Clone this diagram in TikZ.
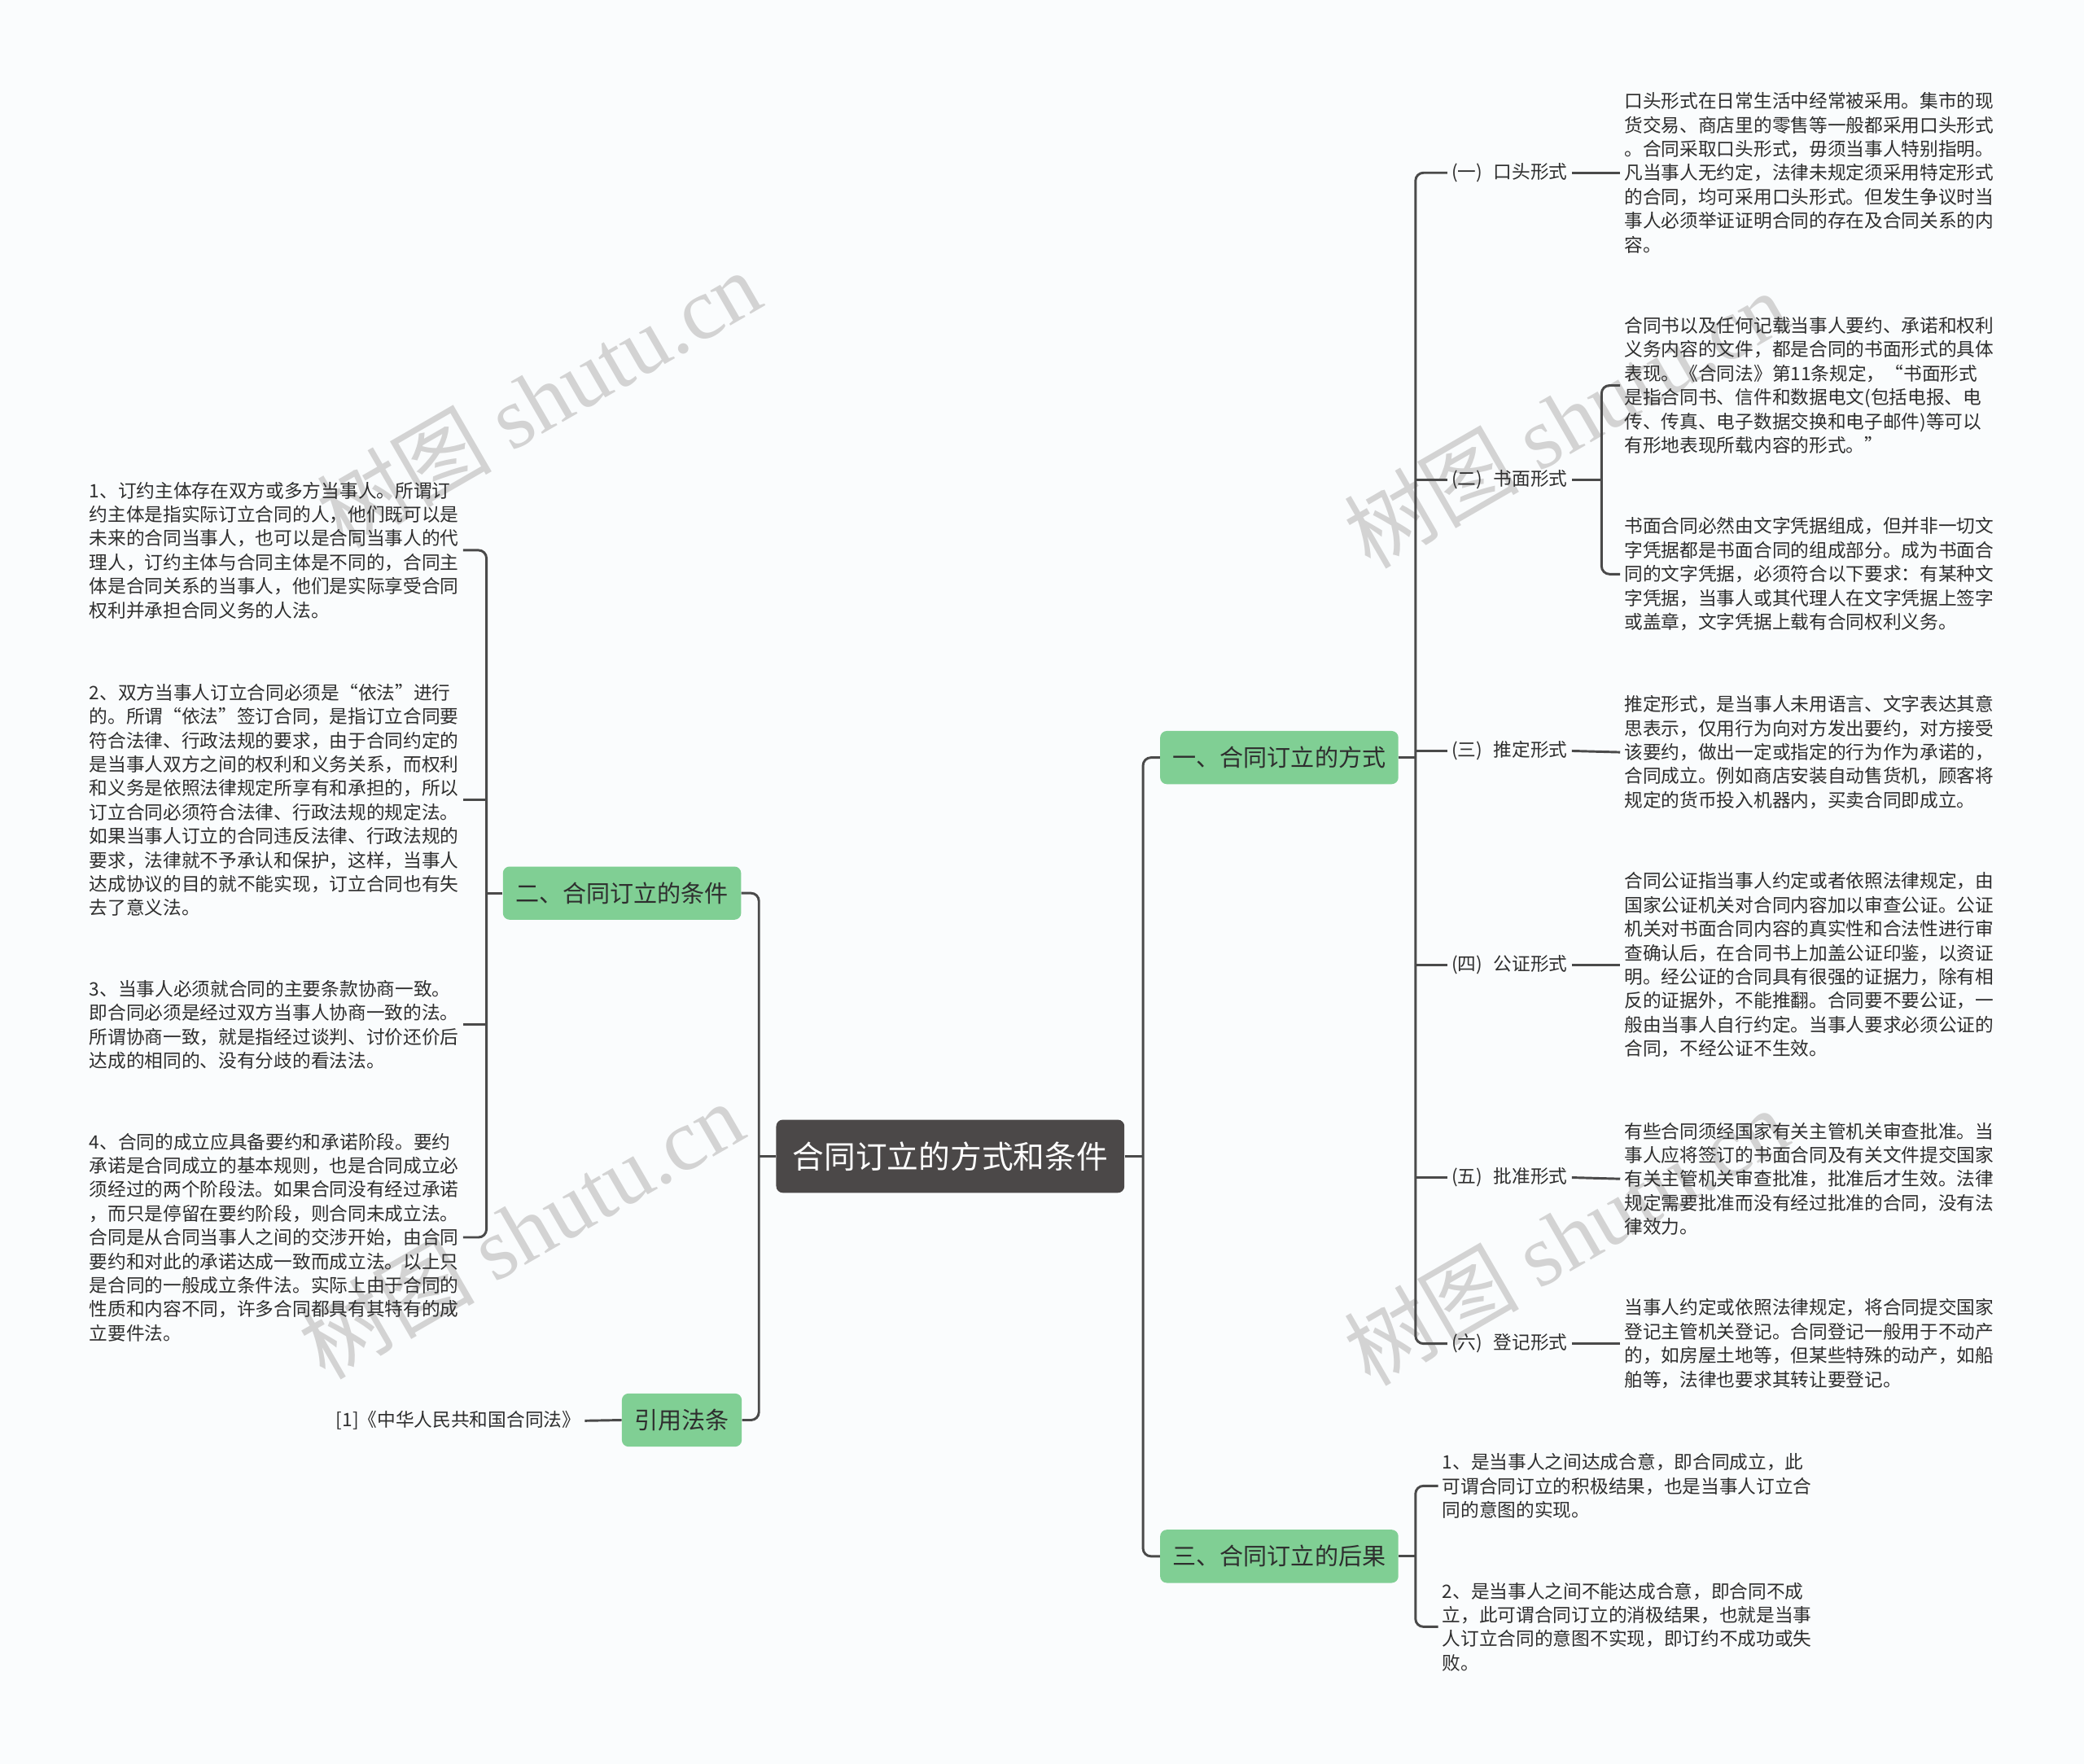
\documentclass[tikz,border=0pt]{standalone}
\usepackage{fontspec}
\newfontfamily\cjk{Noto Sans CJK SC}
\newfontfamily\wmserif{Liberation Serif}
\usepackage{xcolor}
\usepackage{tikz}
\usetikzlibrary{positioning,calc}
\definecolor{MapGreen}{HTML}{80CF94}
\definecolor{MapDark}{HTML}{4B4848}
\definecolor{MapLine}{HTML}{4A4A4A}
\definecolor{MapText}{HTML}{2E2E2E}
\definecolor{MapBg}{HTML}{FAFCFD}
\definecolor{MapMark}{HTML}{D3D3D3}

\begin{document}
\begin{tikzpicture}[x=1pt, y=-1pt, every node/.style={font=\cjk, text=MapText},
		conn/.style={line width=1.8pt, MapLine, rounded corners=6pt},
		rootbox/.style={fill=MapDark, text=white, rounded corners=5pt, font=\cjk\fontsize{23.7}{28}\selectfont, inner xsep=12.5pt, minimum height=55pt},
		branch/.style={fill=MapGreen, rounded corners=5pt, font=\cjk\fontsize{17.8}{22}\selectfont, inner xsep=9.5pt, minimum height=40pt},
		sublabel/.style={font=\cjk\fontsize{13.9}{18}\selectfont, inner sep=3pt, anchor=west},
		leaf/.style={font=\cjk\fontsize{13.9}{18}\selectfont, align=left, inner sep=3pt, anchor=west},
		wmtext/.style={text=MapMark, rotate=30, font=\cjk\fontsize{66}{76}\selectfont}]
		\fill[MapBg] (0,0) rectangle (1568,1327);
		\useasboundingbox (0,0) rectangle (1568,1327);
		\node[wmtext] (wm1) at (405,300) {树图 {\wmserif shutu.cn}};
		\node[wmtext] (wm2) at (392,925) {树图 {\wmserif shutu.cn}};
		\node[wmtext] (wm3) at (1178,315) {树图 {\wmserif shutu.cn}};
		\node[wmtext] (wm4) at (1178,930) {树图 {\wmserif shutu.cn}};

		\node[rootbox] (root) at (715,870) {合同订立的方式和条件};
		\node[branch] (b1) at (962.5,570) {一、合同订立的方式};
		\node[branch] (b3) at (962.5,1171) {三、合同订立的后果};
		\node[branch] (b2) at (468,672) {二、合同订立的条件};
		\node[branch] (b4) at (513,1068.5) {引用法条};

		\node[sublabel] (lab1) at (1089,130) {(一)\hspace{.6em}口头形式};
		\node[sublabel] (lab2) at (1089,361) {(二)\hspace{.6em}书面形式};
		\node[sublabel] (lab3) at (1089,565) {(三)\hspace{.6em}推定形式};
		\node[sublabel] (lab4) at (1089,726) {(四)\hspace{.6em}公证形式};
		\node[sublabel] (lab5) at (1089,886) {(五)\hspace{.6em}批准形式};
		\node[sublabel] (lab6) at (1089,1011) {(六)\hspace{.6em}登记形式};

		\node[leaf] (r1) at (1219,130) {口头形式在日常生活中经常被采用。集市的现\\货交易、商店里的零售等一般都采用口头形式\\。合同采取口头形式，毋须当事人特别指明。\\凡当事人无约定，法律未规定须采用特定形式\\的合同，均可采用口头形式。但发生争议时当\\事人必须举证证明合同的存在及合同关系的内\\容。};
		\node[leaf] (r2a) at (1219,290) {合同书以及任何记载当事人要约、承诺和权利\\义务内容的文件，都是合同的书面形式的具体\\表现。《合同法》第11条规定，“书面形式\\是指合同书、信件和数据电文(包括电报、电\\传、传真、电子数据交换和电子邮件)等可以\\有形地表现所载内容的形式。”};
		\node[leaf] (r2b) at (1219,432) {书面合同必然由文字凭据组成，但并非一切文\\字凭据都是书面合同的组成部分。成为书面合\\同的文字凭据，必须符合以下要求：有某种文\\字凭据，当事人或其代理人在文字凭据上签字\\或盖章，文字凭据上载有合同权利义务。};
		\node[leaf] (r3) at (1219,566) {推定形式，是当事人未用语言、文字表达其意\\思表示，仅用行为向对方发出要约，对方接受\\该要约，做出一定或指定的行为作为承诺的，\\合同成立。例如商店安装自动售货机，顾客将\\规定的货币投入机器内，买卖合同即成立。};
		\node[leaf] (r4) at (1219,726) {合同公证指当事人约定或者依照法律规定，由\\国家公证机关对合同内容加以审查公证。公证\\机关对书面合同内容的真实性和合法性进行审\\查确认后，在合同书上加盖公证印鉴，以资证\\明。经公证的合同具有很强的证据力，除有相\\反的证据外，不能推翻。合同要不要公证，一\\般由当事人自行约定。当事人要求必须公证的\\合同，不经公证不生效。};
		\node[leaf] (r5) at (1219,887) {有些合同须经国家有关主管机关审查批准。当\\事人应将签订的书面合同及有关文件提交国家\\有关主管机关审查批准，批准后才生效。法律\\规定需要批准而没有经过批准的合同，没有法\\律效力。};
		\node[leaf] (r6) at (1219,1011) {当事人约定或依照法律规定，将合同提交国家\\登记主管机关登记。合同登记一般用于不动产\\的，如房屋土地等，但某些特殊的动产，如船\\舶等，法律也要求其转让要登记。};

		\node[leaf] (s1) at (1082,1118) {1、是当事人之间达成合意，即合同成立，此\\可谓合同订立的积极结果，也是当事人订立合\\同的意图的实现。};
		\node[leaf] (s2) at (1082,1224) {2、是当事人之间不能达成合意，即合同不成\\立，此可谓合同订立的消极结果，也就是当事\\人订立合同的意图不实现，即订约不成功或失\\败。};

		\node[leaf] (c1) at (64,414) {1、订约主体存在双方或多方当事人。所谓订\\约主体是指实际订立合同的人，他们既可以是\\未来的合同当事人，也可以是合同当事人的代\\理人，订约主体与合同主体是不同的，合同主\\体是合同关系的当事人，他们是实际享受合同\\权利并承担合同义务的人法。};
		\node[leaf] (c2) at (64,602) {2、双方当事人订立合同必须是“依法”进行\\的。所谓“依法”签订合同，是指订立合同要\\符合法律、行政法规的要求，由于合同约定的\\是当事人双方之间的权利和义务关系，而权利\\和义务是依照法律规定所享有和承担的，所以\\订立合同必须符合法律、行政法规的规定法。\\如果当事人订立的合同违反法律、行政法规的\\要求，法律就不予承认和保护，这样，当事人\\达成协议的目的就不能实现，订立合同也有失\\去了意义法。};
		\node[leaf] (c3) at (64,771) {3、当事人必须就合同的主要条款协商一致。\\即合同必须是经过双方当事人协商一致的法。\\所谓协商一致，就是指经过谈判、讨价还价后\\达成的相同的、没有分歧的看法法。};
		\node[leaf] (c4) at (64,931) {4、合同的成立应具备要约和承诺阶段。要约\\承诺是合同成立的基本规则，也是合同成立必\\须经过的两个阶段法。如果合同没有经过承诺\\，而只是停留在要约阶段，则合同未成立法。\\合同是从合同当事人之间的交涉开始，由合同\\要约和对此的承诺达成一致而成立法。以上只\\是合同的一般成立条件法。实际上由于合同的\\性质和内容不同，许多合同都具有其特有的成\\立要件法。};
		\node[leaf, anchor=east] (cite) at (440,1069) {[1]《中华人民共和国合同法》};

		\coordinate (rfork) at (860,870);
		\coordinate (lfork) at (571,870);
		\coordinate (fork1) at (1065,570);
		\coordinate (fork2) at (1205,361);
		\coordinate (fork3) at (1065,1171);
		\coordinate (fork4) at (366,672);

		\draw[conn] (root.east) -- (rfork); \draw[conn] (b1.west) -| (rfork) |- (b3.west);
		\draw[conn] (root.west) -- (lfork); \draw[conn] (b2.east) -| (lfork) |- (b4.east);
		\draw[conn] (b1.east) -- (fork1); \draw[conn] (lab1.west) -| (fork1) |- (lab6.west);
		\draw[conn] (lab2.west) -- (lab2.west -| fork1); \draw[conn] (lab3.west) -- (lab3.west -| fork1); \draw[conn] (lab4.west) -- (lab4.west -| fork1); \draw[conn] (lab5.west) -- (lab5.west -| fork1);
		\draw[conn] (lab1.east) -- (r1.west); \draw[conn] (lab3.east) -- (r3.west); \draw[conn] (lab4.east) -- (r4.west); \draw[conn] (lab5.east) -- (r5.west); \draw[conn] (lab6.east) -- (r6.west);
		\draw[conn] (lab2.east) -- (fork2); \draw[conn] (r2a.west) -| (fork2) |- (r2b.west);
		\draw[conn] (b3.east) -- (fork3); \draw[conn] (s1.west) -| (fork3) |- (s2.west);
		\draw[conn] (b2.west) -- (fork4); \draw[conn] (c1.east -| c2.east) -| (fork4) |- (c4.east -| c2.east);
		\draw[conn] (c2.east) -- (fork4 |- c2.east); \draw[conn] (c3.east -| c2.east) -- (fork4 |- c3.east);
		\draw[conn] (b4.west) -- (cite.east);
	\end{tikzpicture}
\end{document}
